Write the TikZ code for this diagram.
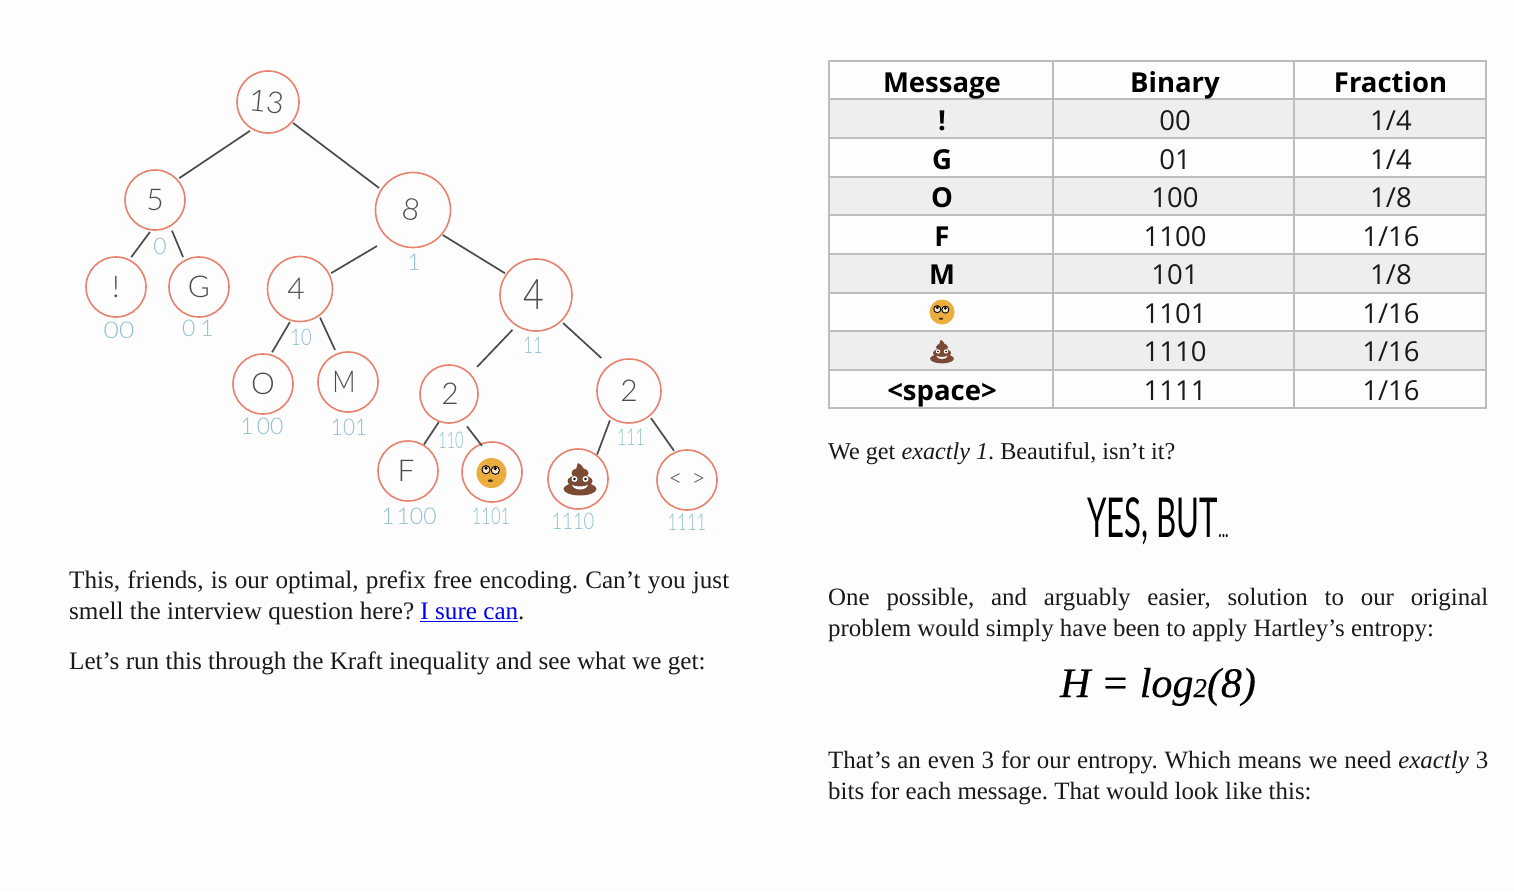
\documentclass[tikz,border=0pt]{standalone}
\usepackage{fontspec}
\usepackage{graphicx}
\usetikzlibrary{calc}
\setmainfont{Liberation Serif}
\newfontfamily\tablefont{Open Sans}
\newfontfamily\handfont{Lato Light}
\newfontfamily\headfont{Lato}
\newfontfamily\eqfont{Liberation Serif}[ItalicFeatures={FakeBold=0.35},FakeBold=0.35]
\definecolor{pagebg}{HTML}{FDFDFD}
\definecolor{ring}{HTML}{E8826E}
\definecolor{inkc}{HTML}{4C4C4C}
\definecolor{bluehand}{HTML}{8FBFD1}
\definecolor{rowgrey}{HTML}{EEEEEE}
\definecolor{gridc}{HTML}{BDBDBD}
\definecolor{poopc}{HTML}{7A4A35}
\definecolor{facec}{HTML}{EBAE3E}
\definecolor{linkc}{HTML}{0000EE}
\definecolor{textc}{HTML}{1A1A1A}
\tikzset{
  tn/.style={circle,draw=ring,line width=1.6pt,minimum size=#1,inner sep=0pt,text=inkc,font=\handfont\fontsize{30}{30}\selectfont},
  edge/.style={draw=inkc,line width=1.7pt},
  bitlabel/.style={text=bluehand,font=\handfont\fontsize{23}{23}\selectfont,inner sep=0pt},
  para/.style={anchor=north west,inner sep=0pt,text=textc,text width=#1,align=justify,font=\frenchspacing\fontsize{24.9}{31}\selectfont},
  leftpara/.style={para=#1,font=\frenchspacing\fontsize{25.15}{31}\selectfont},
  headcell/.style={anchor=base,inner sep=0pt,text=black,font=\tablefont\bfseries\fontsize{27.5}{30}\selectfont},
  bodycell/.style={anchor=base,inner sep=0pt,text=textc,font=\tablefont\fontsize{27.5}{30}\selectfont},
  gridline/.style={draw=gridc,line width=1.6pt}
}
\newcommand{\conn}[6]{\draw[edge] ($(#1)+(#2:#3pt)$) -- ($(#4)+(#5:#6pt)$);}
\newcommand{\squeezed}[2]{\scalebox{#1}[1]{#2}}
\newcommand{\poopart}[3]{%
  \begin{scope}[shift={(#1,#2)},scale=#3]
    \fill[poopc] (0,10) ellipse (16.5 and 6.5);
    \fill[poopc] (0,2) ellipse (12.5 and 6);
    \fill[poopc] (0,-6) ellipse (8.5 and 5);
    \fill[poopc] (-4,-9) .. controls (-3,-12) and (-3,-15) .. (-2,-16) .. controls (3,-14) and (4,-10) .. (4,-7) -- cycle;
    \fill[white] (-5.5,0) circle (3);
    \fill[white] (5.5,0) circle (3);
    \fill[black] (-5.5,0) circle (1.3);
    \fill[black] (5.5,0) circle (1.3);
    \fill[white] (-8,6) .. controls (-4,8) and (4,8) .. (8,6) .. controls (6,12) and (-6,12) .. (-8,6) -- cycle;
  \end{scope}}
\newcommand{\facebase}[3]{\fill[facec] (#1,#2) circle (#3);}
\newcommand{\faceeyes}[3]{%
  \begin{scope}[shift={(#1,#2)},scale=#3]
    \draw[black,line width=.9pt,fill=white!70!facec] (-5,-3) circle (3.7);
    \draw[black,line width=.9pt,fill=white!70!facec] (3.5,-2.5) circle (3.7);
    \fill[black] (-5,-4.5) circle (1.6);
    \fill[black] (3.5,-4) circle (1.6);
    \fill[black!70!facec] (-1,7) ellipse (2.4 and 1.2);
  \end{scope}}
\begin{document}
\begin{tikzpicture}[x=1pt,y=-1pt]
\useasboundingbox (0,0) rectangle (1514,891);
\fill[pagebg] (0,0) rectangle (1514,891);

% tree nodes
\node[tn=62pt] (n13) at (268,102) {\rotatebox{-6}{13}\kern3pt};
\node[tn=60pt] (n5) at (155,200) {5};
\node[tn=75pt] (n8) at (413,210) {\rotatebox{-10}{8}\kern4pt};
\node[tn=60pt] (nbang) at (116,287) {!};
\node[tn=60pt] (nG) at (199,287) {G};
\node[tn=65pt] (n4a) at (300,289) {4\kern8pt};
\node[tn=72pt,font=\handfont\fontsize{42}{42}\selectfont] (n4b) at (536,295) {\squeezed{0.85}{4}\kern4pt};
\node[tn=60pt] (nO) at (263,384) {O};
\node[tn=60pt] (nM) at (348,382) {\squeezed{0.85}{M}\kern8pt};
\node[tn=58pt] (n2a) at (449,394) {\kern2pt 2};
\node[tn=64pt] (n2b) at (629,391) {2};
\node[tn=60pt] (nF) at (408,471) {F\kern4pt};
\node[tn=60pt] (neye) at (492,472) {};
\node[tn=60pt] (npoop) at (578,479) {};
\node[tn=60pt,font=\handfont\fontsize{24}{24}\selectfont] (nangle) at (687,480) {<\hspace{9pt}>};

% tree edges
\conn{n13}{238}{34}{n5}{42}{32.6}
\conn{n13}{-40}{32.6}{n8}{147}{40.5}
\conn{n5}{261}{32.4}{nbang}{63}{33.5}
\conn{n5}{299}{35}{nG}{118}{34}
\conn{n8}{225}{51}{n4a}{27}{35}
\conn{n8}{-40}{39}{n4b}{145}{38}
\conn{n4a}{253}{34.5}{nO}{74}{33}
\conn{n4a}{-55}{35}{nM}{112}{34.5}
\conn{n4b}{236}{42}{n2a}{44}{39}
\conn{n4b}{-46}{39}{n2b}{130}{43}
\conn{n2a}{250}{30}{nF}{59}{31}
\conn{n2a}{-61}{37}{neye}{111}{28}
\conn{n2b}{237}{35}{npoop}{52}{31}
\conn{n2b}{-51}{35}{nangle}{114}{32}

% pictures inside tree nodes
\facebase{491.5}{473}{15}
\faceeyes{491.5}{473}{1.1}
\poopart{580}{479}{1}

% bit labels
\node[bitlabel] (b0) at (160,246) {0};
\node[bitlabel] (b00) at (119,330) {\squeezed{1.15}{00}};
\node[bitlabel] (b01) at (198,328) {0\hspace{5pt}1};
\node[bitlabel] (b10) at (301,337) {\squeezed{0.8}{10}};
\node[bitlabel] (b1) at (414,262) {1};
\node[bitlabel] (b100) at (262,426) {1\hspace{3pt}00};
\node[bitlabel] (b101) at (349,427) {\squeezed{0.9}{101}};
\node[bitlabel] (b11) at (533,345) {\squeezed{0.73}{11}};
\node[bitlabel] (b110) at (451,440) {\squeezed{0.63}{110}};
\node[bitlabel] (b111) at (631,437) {\squeezed{0.7}{111}};
\node[bitlabel] (b1100) at (409,516) {1\hspace{2pt}100};
\node[bitlabel] (b1101) at (491,516) {\squeezed{0.72}{1101}};
\node[bitlabel] (b1110) at (573,521) {\squeezed{0.8}{1110}};
\node[bitlabel] (b1111) at (687,522) {\squeezed{0.73}{1111}};

% left text
\node[leftpara=660pt] (p1) at (69,571) {This, friends, is our optimal, prefix free encoding. Can’t you just\linebreak smell the interview question here? {\color{linkc}\underline{I sure can}}.};
\node[leftpara=660pt] (p2) at (69,652) {Let’s run this through the Kraft inequality and see what we get:};

% table
\fill[rowgrey] (829,99) rectangle (1486,138);
\fill[rowgrey] (829,177) rectangle (1486,215);
\fill[rowgrey] (829,254) rectangle (1486,293);
\fill[rowgrey] (829,331) rectangle (1486,370);
\draw[gridline] (829,61) rectangle (1486,408);
\foreach \yy in {99,138,177,215,254,293,331,370} {\draw[gridline] (829,\yy) -- (1486,\yy);}
\foreach \xx in {1053,1294} {\draw[gridline] (\xx,61) -- (\xx,408);}

\node[headcell] (h1) at (942,92.5) {Message};
\node[headcell] (h2) at (1175,92.5) {Binary};
\node[headcell] (h3) at (1390.5,92.5) {Fraction};
\node[headcell] (m1) at (942,130) {!};
\node[bodycell] (c1) at (1175,130) {00};
\node[bodycell] (f1) at (1391,130) {1/4};
\node[headcell] (m2) at (942,169) {G};
\node[bodycell] (c2) at (1175,169) {01};
\node[bodycell] (f2) at (1391,169) {1/4};
\node[headcell] (m3) at (942,207) {O};
\node[bodycell] (c3) at (1175,207) {100};
\node[bodycell] (f3) at (1391,207) {1/8};
\node[headcell] (m4) at (942,246) {F};
\node[bodycell] (c4) at (1175,246) {1100};
\node[bodycell] (f4) at (1391,246) {1/16};
\node[headcell] (m5) at (942,284) {M};
\node[bodycell] (c5) at (1175,284) {101};
\node[bodycell] (f5) at (1391,284) {1/8};
\facebase{942}{312}{12.5}
\faceeyes{942}{312}{0.95}
\node[bodycell] (c6) at (1175,323) {1101};
\node[bodycell] (f6) at (1391,323) {1/16};
\poopart{942}{351.5}{0.72}
\node[bodycell] (c7) at (1175,361) {1110};
\node[bodycell] (f7) at (1391,361) {1/16};
\node[headcell] (m8) at (942,400) {<space>};
\node[bodycell] (c8) at (1175,400) {1111};
\node[bodycell] (f8) at (1391,400) {1/16};

% right text
\node[para=660pt,font=\frenchspacing\fontsize{24.2}{31}\selectfont] (p3) at (828,442) {We get \textit{exactly 1}. Beautiful, isn’t it?};
\node[anchor=base,inner sep=0pt,text=black,font=\headfont\fontsize{55}{55}\selectfont] (yes) at (1158,537) {\squeezed{0.567}{YES, BUT{\fontsize{26}{26}\selectfont...}}};
\node[para=660pt] (p4) at (828,588) {One possible, and arguably easier, solution to our original\linebreak problem would simply have been to apply Hartley’s entropy:};
\node[anchor=base,inner sep=0pt,text=black,font=\eqfont\fontsize{42}{42}\selectfont\itshape] (eq) at (1158,697) {H = log{\fontsize{27}{27}\selectfont 2}(8)};
\node[para=660pt] (p5) at (828,751) {That’s an even 3 for our entropy. Which means we need \textit{exactly} 3\linebreak bits for each message. That would look like this:};
\end{tikzpicture}
\end{document}
